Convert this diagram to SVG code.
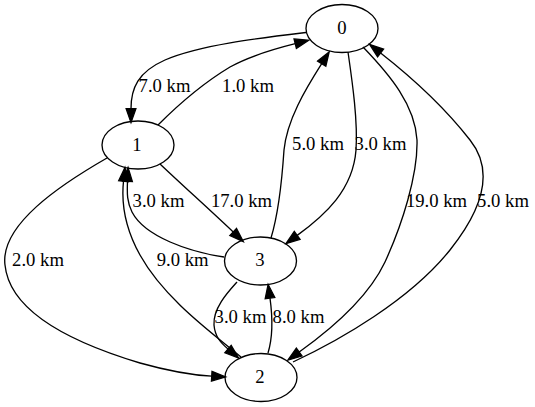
<svg xmlns="http://www.w3.org/2000/svg" width="535" height="407" viewBox="0 0 535 407" font-family="'Liberation Serif', 'Times New Roman', 'DejaVu Serif', serif">
<defs>
<marker id="arr" markerUnits="userSpaceOnUse" markerWidth="14" markerHeight="10" viewBox="0 0 10 7" refX="0" refY="3.5" orient="auto" overflow="visible">
<path d="M0,0 L10,3.5 L0,7 z" fill="#000" stroke="#000" stroke-width="0.9"/>
</marker>
<style>
.n ellipse{fill:none;stroke:#000;stroke-width:1.33}
.n text,.lbl{font-family:'Liberation Serif','Times New Roman','DejaVu Serif',serif;font-size:18.67px;fill:#000;text-anchor:middle}
.e{fill:none;stroke:#000;stroke-width:1.33;marker-end:url(#arr)}
</style>
</defs>
<rect width="535" height="407" fill="#fff"/>
<g id="edges">
<path class="e" d="M306,32.5 C260,38 200,45 165,60 C138,72 131,88 131,108.7"/>
<path class="e" d="M158,125 C175,108 200,85 230,67 C250,56 270,50 295.2,43.7"/>
<path class="e" d="M271,238 C278,215 282,180 284,150 C287,120 305,90 321.7,63.7"/>
<path class="e" d="M348,52 C352,80 358,120 356,150 C353,190 325,215 297.2,235.4"/>
<path class="e" d="M363,47 C390,75 415,105 417,140 C418,175 402,225 385,262 C368,298 330,330 299.2,352"/>
<path class="e" d="M293,362 C340,340 410,300 450,250 C490,200 490,165 470,140 C445,108 410,76 380.6,53"/>
<path class="e" d="M160,164 C180,183 210,210 233.2,232"/>
<path class="e" d="M224,257 C190,252 145,237 132,212 C127,202 127,194 127.5,181.3"/>
<path class="e" d="M241,357 C215,335 165,300 140,255 C125,228 121,205 123.5,181.3"/>
<path class="e" d="M107,158 C60,185 0,225 5,265 C10,315 80,345 140,363 C165,370 190,375 211.7,376.2"/>
<path class="e" d="M237,282 C228,292 213,308 214,325 C215,337 221,343 228,349"/>
<path class="e" d="M268,353 C272,340 273,320 270,298.2"/>
<text class="lbl" x="164.5" y="92">7.0 km</text>
<text class="lbl" x="248" y="92">1.0 km</text>
<text class="lbl" x="318" y="150">5.0 km</text>
<text class="lbl" x="380.5" y="150">3.0 km</text>
<text class="lbl" x="436.5" y="207">19.0 km</text>
<text class="lbl" x="503" y="207">5.0 km</text>
<text class="lbl" x="241.5" y="207">17.0 km</text>
<text class="lbl" x="158.5" y="207">3.0 km</text>
<text class="lbl" x="38" y="266">2.0 km</text>
<text class="lbl" x="182.7" y="266">9.0 km</text>
<text class="lbl" x="240.5" y="323">3.0 km</text>
<text class="lbl" x="298.5" y="323">8.0 km</text>
</g>
<g id="node0" class="n"><ellipse cx="342" cy="28.5" rx="36" ry="24"/><text x="342" y="34">0</text></g>
<g id="node1" class="n"><ellipse cx="138" cy="145" rx="36" ry="24"/><text x="137" y="150.5">1</text></g>
<g id="node3" class="n"><ellipse cx="260.5" cy="261" rx="36" ry="24"/><text x="260" y="266">3</text></g>
<g id="node2" class="n"><ellipse cx="261" cy="377.5" rx="36" ry="24"/><text x="260" y="382.5">2</text></g>
</svg>
